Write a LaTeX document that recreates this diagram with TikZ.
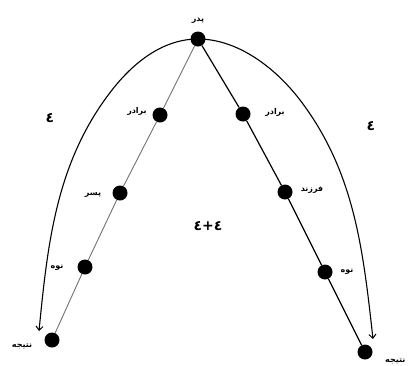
\documentclass[tikz,border=0pt]{standalone}
\usepackage{fontspec}
\newfontfamily\arabicfont[Script=Arabic]{DejaVu Sans}
\TeXXeTstate=1
\usetikzlibrary{arrows.meta}
\begin{document}
\begin{tikzpicture}[x=1pt,y=-1pt,
  dot/.style={circle,fill=black,inner sep=0pt,minimum size=15pt},
  lbl/.style={font=\arabicfont\bfseries\fontsize{8}{9}\selectfont,inner sep=0pt},
  digit/.style={font=\arabicfont\bfseries\fontsize{14}{15}\selectfont,inner sep=0pt},
  leftline/.style={draw=black!55,line width=0.9pt},
  rightline/.style={draw=black,line width=1.2pt},
  arcline/.style={draw=black,line width=1.1pt,-{Straight Barb[length=4pt,width=7pt,line width=1pt]}}]
\useasboundingbox[fill=white] (0,0) rectangle (417,365);
\coordinate (topc) at (198,39);
\coordinate (lm) at (112,90);
\coordinate (la) at (39,331);
\coordinate (rm) at (300,100);
\coordinate (ra) at (373,339);
% arcs
\draw[arcline] (topc) .. controls (163,39) and (133.6,62.4) .. (lm)
  .. controls (56.6,161) and (47.8,241.5) .. (la);
\draw[arcline] (topc) .. controls (238,39) and (275.7,68.2) .. (rm)
  .. controls (354.6,171.6) and (363,249.5) .. (ra);
% nodes
\node[dot] (top) at (topc) {};
\node[dot] (l1) at (160,115) {};
\node[dot] (l2) at (120,193) {};
\node[dot] (l3) at (85,267) {};
\node[dot] (l4) at (52,340) {};
\node[dot] (r1) at (243,114) {};
\node[dot] (r2) at (285,192) {};
\node[dot] (r3) at (325,272) {};
\node[dot] (r4) at (365,352) {};
% lines
\draw[leftline] (top) -- (l1) -- (l2) -- (l3) -- (l4);
\draw[rightline] (top) -- (r1) -- (r2) -- (r3) -- (r4);
% labels
\node[lbl] (tp) at (198,21) {\beginR پدر\endR};
\node[lbl] (tl1) at (137,111) {\beginR برادر\endR};
\node[lbl] (tl2) at (93,195) {\beginR پسر\endR};
\node[lbl] (tl3) at (57,268) {\beginR نوه\endR};
\node[lbl] (tl4) at (22,346) {\beginR نتیجه\endR};
\node[lbl] (tr1) at (275,112) {\beginR برادر\endR};
\node[lbl] (tr2) at (312,190) {\beginR فرزند\endR};
\node[lbl] (tr3) at (347,272) {\beginR نوه\endR};
\node[lbl,anchor=west] (tr4) at (385,361) {\beginR نتیجه\endR};
% digits
\node[digit] (dl) at (50,118) {٤};
\node[digit] (dr) at (371,126) {٤};
\node[digit] (dc) at (208,226) {٤+٤};
\end{tikzpicture}
\end{document}
